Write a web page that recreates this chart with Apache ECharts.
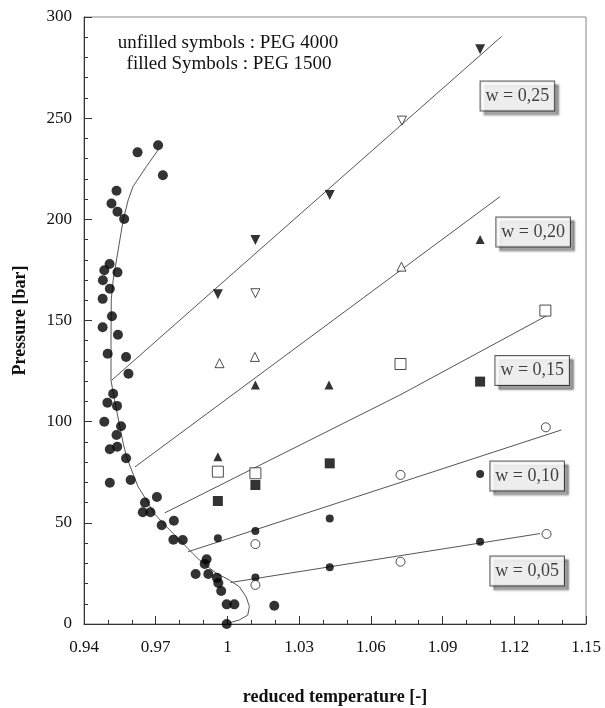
<!DOCTYPE html>
<html>
<head>
<meta charset="utf-8">
<script src="https://cdn.jsdelivr.net/npm/echarts@6/dist/echarts.min.js"></script>
<style>
html,body{margin:0;padding:0;background:#fff;}
#chart{width:605px;height:708px;}
</style>
</head>
<body>
<div id="chart"></div>
<script>
// ---- tick labels ----
const xTicks = [0.94, 0.97, 1.00, 1.03, 1.06, 1.09, 1.12, 1.15];
const yTicks = [0, 50, 100, 150, 200, 250, 300];

// ---- binodal points (filled circles) ----
const binodal = [
  [0.9624,233.1],[0.9710,236.6],[0.9730,221.8],[0.9536,214.1],[0.9515,207.8],
  [0.9540,203.8],[0.9568,200.2],[0.9507,177.9],[0.9485,174.8],[0.9540,173.8],
  [0.9479,169.9],[0.9508,165.7],[0.9478,160.7],[0.9517,152.1],[0.9478,146.7],
  [0.9542,143.0],[0.9499,133.6],[0.9576,132.0],[0.9586,123.7],[0.9522,113.8],
  [0.9498,109.4],[0.9538,107.8],[0.9485,100.0],[0.9555,97.7],[0.9536,93.4],
  [0.9539,87.6],[0.9508,86.4],[0.9576,81.9],[0.9508,69.8],[0.9595,71.2],
  [0.9655,60.0],[0.9705,62.8],[0.9646,55.2],[0.9678,55.2],[0.9725,48.8],
  [0.9776,51.0],[0.9774,41.7],[0.9813,41.5],[0.9867,24.7],[0.9913,32.0],
  [0.9905,29.7],[0.9920,24.7],[0.9956,22.8],[0.9962,20.3],[0.9974,16.3],
  [0.9997,9.7],[1.0029,9.7],[1.0196,9.0],[0.9997,0.0]
];
// ---- binodal curve ----
const binodalCurve = [
  [0.9710,234.3],[0.9661,226.1],[0.9605,216.2],[0.9585,209.6],[0.9564,199.7],
  [0.9550,189.8],[0.9536,179.9],[0.9522,170.0],[0.9514,160.2],[0.9513,140.4],
  [0.9513,120.6],[0.9522,114.0],[0.9536,105.8],[0.9550,97.5],[0.9564,89.3],
  [0.9578,82.7],[0.9599,76.1],[0.9626,67.9],[0.9661,61.3],[0.9693,54.7],
  [0.9745,48.1],[0.9800,41.5],[0.9855,34.9],[0.9883,31.6],[0.9953,25.1],
  [1.0008,21.7],[1.0050,18.4],[1.0078,13.5],[1.0092,8.6],[1.0085,4.4],
  [1.0050,2.0],[1.0008,0.6]
];

// ---- isopleths: filled = PEG 1500, open = PEG 4000 ----
const w25Filled = [[0.9960,163.0],[1.0117,189.8],[1.0428,212.0],[1.1057,284.0]];
const w25Open   = [[1.0117,163.5],[1.0730,248.8]];
const w20Filled = [[0.9960,82.7],[1.0117,118.1],[1.0425,118.1],[1.1057,190.0]];
const w20Open   = [[0.9967,128.9],[1.0115,132.0],[1.0728,176.6]];
const w15Filled = [[0.9960,60.8],[1.0117,68.7],[1.0428,79.4],[1.1057,119.8]];
const w15Open   = [[0.9960,75.3],[1.0117,74.5],[1.0724,128.5],[1.1330,154.9]];
const w10Filled = [[0.9960,42.4],[1.0117,46.0],[1.0428,52.2],[1.1057,74.1]];
const w10Open   = [[1.0117,39.5],[1.0724,73.7],[1.1332,97.2]];
const w05Filled = [[1.0117,23.0],[1.0428,28.0],[1.1057,40.7]];
const w05Open   = [[1.0117,19.3],[1.0724,30.8],[1.1335,44.5]];

// ---- fitted lines ----
const fit25 = [[0.9517,120.6],[1.1147,290.4]];
const fit20 = [[0.9613,77.6],[1.1140,211.2]];
const fit15 = [[0.97375,54.9],[1.0722,113.2],[1.1333,152.2]];
const fit10 = [[0.9835,35.7],[1.1397,95.9]];
const fit05 = [[1.00125,20.5],[1.1308,44.7]];

// ---- box labels ----
const boxNames = ['w = 0,25','w = 0,20','w = 0,15','w = 0,10','w = 0,05'];
const boxX = [1.1213, 1.1279, 1.1275, 1.1254, 1.1254];
const boxY = [261.0, 193.8, 125.3, 73.2, 26.2];

const FONT = '"Liberation Serif","DejaVu Serif",serif';
const LINE = '#555';
const TXT = '#111';

function lineSeries(data){
  return {type:'line', data:data, symbol:'none', smooth:false, silent:true, z:2,
          lineStyle:{color:LINE, width:1}};
}
function filled(data, symbol, size, rot){
  return {type:'scatter', data:data, symbol:symbol, symbolSize:size, symbolRotate:rot||0, z:5,
          itemStyle:{color:'#000'}};
}
function open(data, symbol, size, rot){
  return {type:'scatter', data:data, symbol:symbol, symbolSize:size, symbolRotate:rot||0, z:5,
          itemStyle:{color:'#fff', borderColor:'#222', borderWidth:1}};
}

const chart = echarts.init(document.getElementById('chart'), null, {renderer:'canvas'});
chart.setOption({
  animation:false,
  backgroundColor:'#fff',
  grid:{left:84, right:19, top:17, bottom:84, show:true, borderColor:'#888', borderWidth:1,
        containLabel:false, outerBoundsMode:'none'},
  xAxis:{
    type:'value', min:xTicks[0], max:xTicks[xTicks.length-1], interval:0.03,
    name:'reduced temperature [-]', nameLocation:'middle', nameGap:64,
    nameTextStyle:{fontFamily:FONT, fontSize:18, fontWeight:'bold', color:TXT},
    axisLine:{show:true, lineStyle:{color:'#333', width:1}},
    axisTick:{show:true, inside:true, length:8, lineStyle:{color:'#333'}},
    minorTick:{show:true, splitNumber:3, length:4, lineStyle:{color:'#333'}},
    splitLine:{show:false},
    axisLabel:{fontFamily:FONT, fontSize:17, color:TXT, margin:15,
      formatter:function(v){return String(+(+v).toFixed(2));}}
  },
  yAxis:{
    type:'value', min:yTicks[0], max:yTicks[yTicks.length-1], interval:50,
    name:'Pressure [bar]', nameLocation:'middle', nameGap:55, nameRotate:90,
    nameTextStyle:{fontFamily:FONT, fontSize:18, fontWeight:'bold', color:TXT},
    axisLine:{show:true, lineStyle:{color:'#333', width:1}},
    axisTick:{show:true, inside:true, length:8, lineStyle:{color:'#333'}},
    minorTick:{show:true, splitNumber:5, length:4, lineStyle:{color:'#333'}},
    splitLine:{show:false},
    axisLabel:{fontFamily:FONT, fontSize:17, color:TXT, margin:12}
  },
  graphic:[
    {type:'text', position:[228,43], style:{text:'unfilled symbols : PEG 4000', x:0, y:0,
      fontFamily:FONT, fontSize:19, fill:TXT, textAlign:'center', textVerticalAlign:'middle'}},
    {type:'text', position:[229,64], style:{text:'filled Symbols : PEG 1500', x:0, y:0,
      fontFamily:FONT, fontSize:19, fill:TXT, textAlign:'center', textVerticalAlign:'middle'}}
  ],
  series:[
    lineSeries(binodalCurve),
    lineSeries(fit25), lineSeries(fit20), lineSeries(fit15), lineSeries(fit10), lineSeries(fit05),
    filled(binodal, 'circle', 10),
    filled(w25Filled, 'triangle', 10, 180),
    open(w25Open, 'triangle', 9, 180),
    filled(w20Filled, 'triangle', 9),
    open(w20Open, 'triangle', 9),
    filled(w15Filled, 'rect', 10),
    open(w15Open, 'rect', 11),
    filled(w10Filled, 'circle', 8),
    open(w10Open, 'circle', 9),
    filled(w05Filled, 'circle', 8),
    open(w05Open, 'circle', 9),
    {type:'scatter', symbol:'rect', symbolSize:0, z:10, silent:true,
     data: boxNames.map(function(n,i){return {name:n, value:[boxX[i], boxY[i]]};}),
     label:{show:true, position:'inside', formatter:'{b}', fontFamily:FONT, fontSize:18, color:TXT,
       backgroundColor:'#fff', borderColor:'#333', borderWidth:1, padding:[6,5,5,5],
       shadowColor:'rgba(0,0,0,0.45)', shadowOffsetX:4, shadowOffsetY:4, shadowBlur:2}}
  ]
});
</script>
</body>
</html>
